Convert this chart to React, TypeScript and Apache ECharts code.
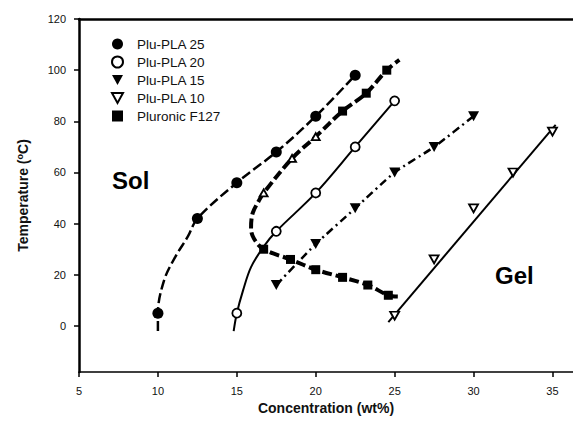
import React, { useEffect, useRef } from "react";
import * as echarts from "echarts";

// ---- data ----
const xTicks = [5, 10, 15, 20, 25, 30, 35];
const yTicks = [0, 20, 40, 60, 80, 100, 120];

const plu25Points = [[10, 5], [12.5, 42], [15, 56], [17.5, 68], [20, 82], [22.5, 98]];
const plu25Curve = [[10, -2], [10, 5], [10.4, 18], [11.1, 27], [11.9, 35], [12.5, 42], [15, 56], [17.5, 68], [20, 82], [22.5, 98]];

const plu20Points = [[15, 5], [17.5, 37], [20, 52], [22.5, 70], [25, 88]];
const plu20Curve = [[14.8, -2], [15, 5], [15.4, 14], [15.9, 23], [16.7, 31], [17.5, 37], [20, 52], [22.5, 70], [25, 88]];

const plu15Points = [[17.5, 16], [20, 32], [22.5, 46], [25, 60], [27.5, 70], [30, 82]];
const plu15Curve = [[17.5, 16], [20, 32], [22.5, 46], [25, 60], [27.5, 70], [30, 82]];

const plu10Points = [[25, 4], [27.5, 26], [30, 46], [32.5, 60], [35, 76]];
const plu10Line = [[24.6, 1.5], [35.2, 78.6]];

const f127Points = [[24.6, 12], [23.3, 16], [21.7, 19], [20, 22], [18.4, 26], [16.7, 30], [21.7, 84], [23.2, 91], [24.5, 100]];
const f127OpenPoints = [[16.7, 52], [18.5, 65.5], [20, 74]];
const f127Curve = [[25.2, 11.5], [24.6, 12], [23.3, 16], [21.7, 19], [20, 22], [18.4, 26], [16.7, 30], [16.1, 34], [15.9, 38], [16.0, 44], [16.4, 49], [16.7, 52], [18.5, 65.5], [20, 74], [21.7, 84], [23.2, 91], [24.5, 100], [25.3, 104]];

const seriesNames = ["Plu-PLA 25", "Plu-PLA 20", "Plu-PLA 15", "Plu-PLA 10", "Pluronic F127"];

const TRI_DOWN = "path://M0,0L10,0L5,9Z";
const TRI_UP = "path://M5,0L10,9L0,9Z";
const FONT = "'Liberation Sans', Arial, sans-serif";

export default function App() {
  const ref = useRef<HTMLDivElement>(null);
  useEffect(() => {
    if (!ref.current) return;
    const chart = echarts.init(ref.current, undefined, { renderer: "svg" });
    const black = "#000";
    const lineSeries = (name: string, data: number[][], style: any, smooth: any = 0.35) => ({
      name,
      type: "line",
      data,
      smooth,
      showSymbol: false,
      symbol: "none",
      silent: true,
      lineStyle: { color: black, opacity: 1, ...style },
      z: 2,
    });
    const scatter = (name: string, data: number[][], symbol: string, size: any, open: boolean) => ({
      name,
      type: "scatter",
      data,
      symbol,
      symbolSize: size,
      itemStyle: open
        ? { color: "#fff", borderColor: black, borderWidth: 1.8, opacity: 1 }
        : { color: black, borderColor: black, borderWidth: 0, opacity: 1 },
      z: 3,
    });
    chart.setOption({
      animation: false,
      textStyle: { fontFamily: FONT },
      grid: { left: 79, top: 19, right: 0, bottom: 59, containLabel: false, outerBoundsMode: "none" },
      legend: {
        orient: "vertical",
        left: 106,
        top: 32,
        itemWidth: 11,
        itemHeight: 11,
        itemGap: 4,
        data: [
          { name: seriesNames[0], icon: "circle" },
          { name: seriesNames[1], icon: "circle" },
          { name: seriesNames[2], icon: TRI_DOWN },
          { name: seriesNames[3], icon: TRI_DOWN },
          { name: seriesNames[4], icon: "rect" },
        ],
        itemStyle: { opacity: 1 },
        textStyle: { fontSize: 13.5, color: "#111", fontFamily: FONT, lineHeight: 14, padding: [0, 0, 0, 9] },
        selectedMode: false,
      },
      xAxis: [
        {
          type: "value",
          min: 5,
          max: 36.3,
          interval: 5,
          axisLine: { show: true, onZero: false, lineStyle: { color: black, width: 1.5 } },
          axisTick: { show: true, inside: false, length: 5, lineStyle: { color: black, width: 1.5 }, customValues: xTicks },
          axisLabel: { color: "#111", fontSize: 11, margin: 13, fontFamily: FONT, customValues: xTicks },
          splitLine: { show: false },
          name: "Concentration (wt%)",
          nameLocation: "middle",
          nameGap: 29,
          nameTextStyle: { fontSize: 14, fontWeight: "bold", color: "#111", fontFamily: FONT },
        },
        {
          type: "value",
          position: "top",
          min: 5,
          max: 36.3,
          axisLine: { show: true, onZero: false, lineStyle: { color: black, width: 2.5 } },
          axisTick: { show: false },
          axisLabel: { show: false },
          splitLine: { show: false },
        },
      ],
      yAxis: {
        type: "value",
        min: -18,
        max: 120,
        axisLine: { show: true, onZero: false, lineStyle: { color: black, width: 2.5 } },
        axisTick: { show: true, inside: false, length: 5, lineStyle: { color: black, width: 1.5 }, customValues: yTicks },
        axisLabel: { color: "#111", fontSize: 11, margin: 13, fontFamily: FONT, customValues: yTicks },
        splitLine: { show: false },
        name: "Temperature ({sup|o}C)",
        nameLocation: "middle",
        nameGap: 48,
        nameRotate: 90,
        nameTextStyle: {
          fontSize: 14,
          fontWeight: "bold",
          color: "#111",
          fontFamily: FONT,
          rich: {
            sup: { fontSize: 9, fontWeight: "bold", fontFamily: FONT, color: "#111", padding: [0, 0, 7, 0] },
          },
        },
      },
      graphic: [
        { type: "text", left: 112, top: 168, style: { text: "Sol", font: `bold 24px ${FONT}`, fill: "#000" } },
        { type: "text", left: 495, top: 263, style: { text: "Gel", font: `bold 24px ${FONT}`, fill: "#000" } },
      ],
      series: [
        lineSeries("c25", plu25Curve, { width: 2.5, type: [10, 4] }),
        lineSeries("c20", plu20Curve, { width: 2, type: "solid" }),
        lineSeries("c15", plu15Curve, { width: 2.5, type: [8, 4, 2, 4] }, 0.2),
        lineSeries("c10", plu10Line, { width: 2, type: "solid" }, false),
        lineSeries("cF127", f127Curve, { width: 4, type: [10, 4] }, 0.35),
        scatter(seriesNames[0], plu25Points, "circle", 11, false),
        scatter(seriesNames[1], plu20Points, "circle", 9, true),
        scatter(seriesNames[2], plu15Points, TRI_DOWN, [11, 10], false),
        scatter(seriesNames[3], plu10Points, TRI_DOWN, [9, 8], true),
        scatter(seriesNames[4], f127Points, "rect", 9, false),
        scatter("F127 open", f127OpenPoints, TRI_UP, [8, 7], true),
      ],
    });
    return () => chart.dispose();
  }, []);
  return <div ref={ref} style={{ position: "fixed", left: 0, top: 0, width: 573, height: 431, background: "#fff" }} />;
}
